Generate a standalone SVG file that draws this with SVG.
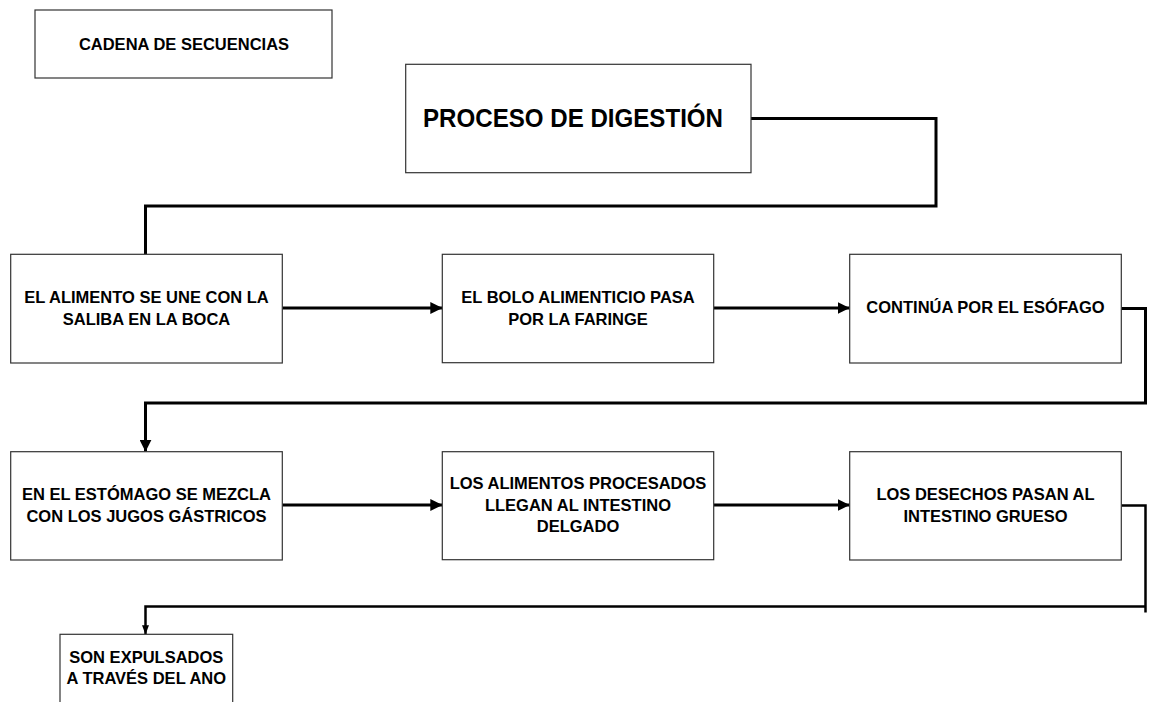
<svg xmlns="http://www.w3.org/2000/svg" width="1151" height="702" viewBox="0 0 1151 702">
<style>
.box{fill:#fff;stroke:#333;stroke-width:1.2}
.t{font-family:"Liberation Sans",Arial,sans-serif;font-weight:bold;fill:#000;text-anchor:middle;font-size:16.5px}
.c{fill:none;stroke:#000;stroke-width:3;stroke-linejoin:miter}
.c2{fill:none;stroke:#000;stroke-width:2.5}
</style>
<defs>
<marker id="ab" markerUnits="userSpaceOnUse" markerWidth="12" markerHeight="12" refX="12" refY="6" orient="auto"><path d="M0,0 L12,6 L0,12 z" fill="#000"/></marker>
<marker id="as" markerUnits="userSpaceOnUse" markerWidth="9" markerHeight="7" refX="9" refY="3.5" orient="auto"><path d="M0,0 L9,3.5 L0,7 z" fill="#000"/></marker>
</defs>
<rect width="1151" height="702" fill="#fff"/>
<g id="connectors">
<polyline class="c" points="751,118.5 936,118.5 936,206 145.5,206 145.5,254.3"/>
<line class="c" x1="282.3" y1="308" x2="442.3" y2="308" marker-end="url(#ab)"/>
<line class="c" x1="713.7" y1="308" x2="849.7" y2="308" marker-end="url(#ab)"/>
<polyline class="c" points="1121.3,308.5 1145.5,308.5 1145.5,403 145.5,403 145.5,451.7" marker-end="url(#ab)"/>
<line class="c" x1="282.3" y1="505" x2="442.3" y2="505" marker-end="url(#ab)"/>
<line class="c" x1="713.7" y1="505" x2="849.7" y2="505" marker-end="url(#ab)"/>
<polyline class="c2" points="1121.3,505.5 1145.5,505.5 1145.5,612.5"/>
<polyline class="c2" points="1145.5,606.5 145.5,606.5 145.5,634.3" marker-end="url(#as)"/>
</g>
<g id="n-cadena">
<rect class="box" x="35" y="10" width="297" height="68"/>
<text class="t" x="184" y="50">CADENA DE SECUENCIAS</text>
</g>
<g id="n-proceso">
<rect class="box" x="405.7" y="64.3" width="345.3" height="108.4"/>
<text class="t" x="573" y="127.3" style="font-size:26.5px" textLength="300" lengthAdjust="spacingAndGlyphs">PROCESO DE DIGESTIÓN</text>
</g>
<g id="n1">
<rect class="box" x="10.7" y="254.3" width="271.6" height="108.7"/>
<text class="t" x="146.5" y="303">EL ALIMENTO SE UNE CON LA</text>
<text class="t" x="146.5" y="325">SALIBA EN LA BOCA</text>
</g>
<g id="n2">
<rect class="box" x="442.3" y="254.3" width="271.4" height="108.4"/>
<text class="t" x="578" y="303.3">EL BOLO ALIMENTICIO PASA</text>
<text class="t" x="578" y="325">POR LA FARINGE</text>
</g>
<g id="n3">
<rect class="box" x="849.7" y="254.3" width="271.6" height="108.7"/>
<text class="t" x="985.5" y="313.3">CONTINÚA POR EL ESÓFAGO</text>
</g>
<g id="n4">
<rect class="box" x="10.7" y="451.7" width="271.6" height="108.3"/>
<text class="t" x="146.5" y="500">EN EL ESTÓMAGO SE MEZCLA</text>
<text class="t" x="146.5" y="521.7">CON LOS JUGOS GÁSTRICOS</text>
</g>
<g id="n5">
<rect class="box" x="442.3" y="451.7" width="271.4" height="108"/>
<text class="t" x="578" y="489.3">LOS ALIMENTOS PROCESADOS</text>
<text class="t" x="578" y="511">LLEGAN AL INTESTINO</text>
<text class="t" x="578" y="531.7">DELGADO</text>
</g>
<g id="n6">
<rect class="box" x="849.7" y="451.7" width="271.6" height="108.3"/>
<text class="t" x="985.5" y="500">LOS DESECHOS PASAN AL</text>
<text class="t" x="985.5" y="521.7">INTESTINO GRUESO</text>
</g>
<g id="n7">
<rect class="box" x="60" y="634.3" width="172.7" height="100"/>
<text class="t" x="146.3" y="662.7">SON EXPULSADOS</text>
<text class="t" x="146.3" y="684">A TRAVÉS DEL ANO</text>
</g>
</svg>
